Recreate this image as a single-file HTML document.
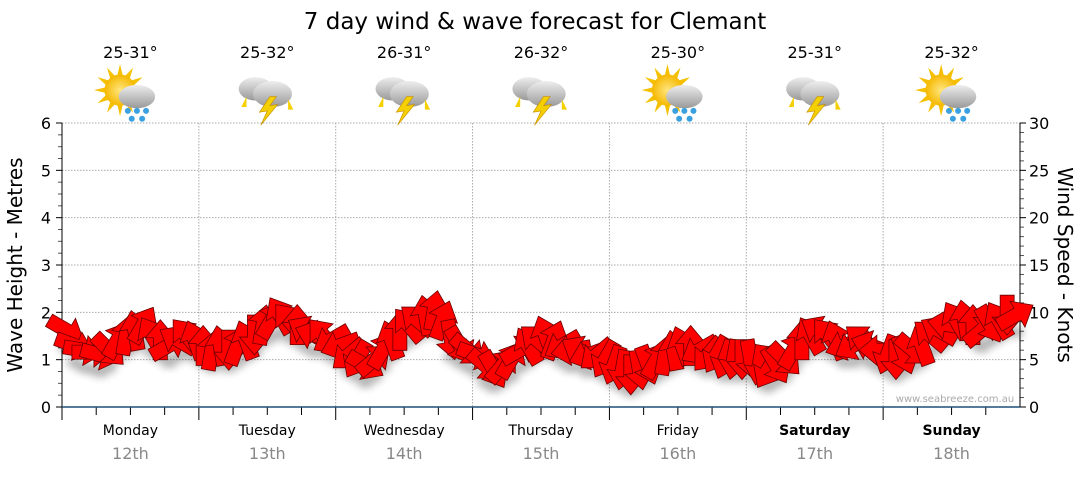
<!DOCTYPE html>
<html><head><meta charset="utf-8"><style>
body{margin:0;background:#fff;width:1080px;height:475px;overflow:hidden;font-family:"DejaVu Sans",sans-serif}
</style></head><body>
<svg id="c" width="1080" height="475" style="font-family:'DejaVu Sans','Liberation Sans',sans-serif">
<defs>
<filter id="sh" x="-20%" y="-20%" width="140%" height="160%"><feGaussianBlur stdDeviation="4"/></filter>
<radialGradient id="sun" cx="50%" cy="50%" r="50%"><stop offset="0" stop-color="#ffe680"/><stop offset="1" stop-color="#f5b800"/></radialGradient>
<linearGradient id="cl" x1="0" y1="0" x2="0" y2="1"><stop offset="0" stop-color="#eee"/><stop offset="1" stop-color="#999"/></linearGradient>
</defs>
<text x="535" y="29" font-size="23" text-anchor="middle">7 day wind &amp; wave forecast for Clemant</text>
<g id="grid"></g><g id="icons"></g><g id="marks"></g>
<text x="955" y="402" font-size="10" fill="#aaa" text-anchor="middle">www.seabreeze.com.au</text>
<text transform="translate(22,265) rotate(-90)" font-size="20" text-anchor="middle">Wave Height - Metres</text>
<text transform="translate(1058,265) rotate(90)" font-size="20" text-anchor="middle">Wind Speed - Knots</text>
</svg>
<script>
const days=["Monday","Tuesday","Wednesday","Thursday","Friday","Saturday","Sunday"];
const dates=["12th","13th","14th","15th","16th","17th","18th"];
const temps=["25-31°","25-32°","26-31°","26-32°","25-30°","25-31°","25-32°"];
const icons=["sunrain","storm","storm","storm","sunrain","storm","sunrain"];
const waveTicks=[0,1,2,3,4,5,6];
const windTicks=[0,5,10,15,20,25,30];
const windSpeed=[8.1,6.5,6.0,5.8,5.5,6.0,7.1,7.6,8.1,8.7,7.6,7.1,6.5,7.1,7.6,7.1,
6.5,6.0,6.5,6.0,6.5,7.1,7.6,8.7,9.2,9.7,9.2,8.7,8.1,7.6,7.6,7.1,
6.5,5.5,5.0,4.4,5.0,6.0,7.1,8.1,8.7,9.2,9.7,10.2,9.2,7.1,6.5,6.0,
5.5,4.4,3.9,4.4,5.0,6.0,6.5,7.1,7.6,7.1,6.5,6.0,6.0,5.5,5.5,5.0,
4.4,3.9,3.4,3.9,4.4,5.0,5.5,6.0,6.5,6.5,6.0,5.5,5.5,5.0,5.0,5.0,
5.0,4.4,3.9,4.4,5.0,6.0,7.1,7.6,8.1,7.6,7.1,6.5,6.5,7.1,6.5,6.0,
5.5,5.0,5.5,6.0,6.5,7.6,8.1,8.7,9.2,9.2,8.7,8.1,8.7,9.2,9.7,9.7];
const windDir=[30,20,10,0,15,45,-60,-80,-100,-60,-120,-90,-30,-150,-130,-110,
-90,-80,-100,90,-70,-110,90,-80,-60,-120,-130,-90,-150,-160,-130,150,
160,140,120,30,-40,-60,-110,-90,-130,-140,-100,-80,-70,80,60,40,
20,40,60,-50,-60,-30,-120,-140,-110,-70,150,170,-150,160,140,120,
110,100,90,80,70,-60,-80,-100,-110,-90,150,130,120,110,100,90,
80,100,120,60,45,-60,-90,-120,-150,-130,-110,160,150,-140,-160,180,
110,90,70,40,-110,-140,-150,-170,-120,-100,-90,-40,60,-120,90,-30];
const X0=62,X1=1020,Y0=407,Y1=123;
const dayW=(X1-X0)/7;
const yWave=v=>Y0-(v/6)*(Y0-Y1);
const yWind=v=>Y0-(v/30)*(Y0-Y1);
const xIdx=i=>X0+(i+0.5)*(X1-X0)/windSpeed.length;
const NS="http://www.w3.org/2000/svg";
function mk(p,t,a){const e=document.createElementNS(NS,t);for(const k in a)e.setAttribute(k,a[k]);p.appendChild(e);return e;}
const g=document.getElementById('grid');
waveTicks.forEach((v,i)=>{const y=yWave(v);
 if(v>0){const l=mk(g,'line',{x1:X0,x2:X1,y1:y,y2:y,stroke:'#aaa','stroke-dasharray':'1.5,1.5'});}
 const t=mk(g,'text',{x:51,y:y+6,'font-size':16,'text-anchor':'end'});t.textContent=v;
 
 mk(g,'line',{x1:X0-6,x2:X0,y1:y,y2:y,stroke:'#000'});
 if(i<waveTicks.length-1)for(let k=1;k<4;k++){const yy=y-k*(Y0-Y1)/24;mk(g,'line',{x1:X0-4,x2:X0,y1:yy,y2:yy,stroke:'#555'});}
});
windTicks.forEach((v,i)=>{const y=yWind(v);
 const t=mk(g,'text',{x:1029,y:y+6,'font-size':16});t.textContent=v;
 
 mk(g,'line',{x1:X1,x2:X1+6,y1:y,y2:y,stroke:'#000'});
 if(i<windTicks.length-1)for(let k=1;k<5;k++){const yy=y-k*(Y0-Y1)/30;mk(g,'line',{x1:X1,x2:X1+4,y1:yy,y2:yy,stroke:'#555'});}
});
mk(g,'line',{x1:X0,x2:X0,y1:Y1,y2:Y0,stroke:'#000'});
mk(g,'line',{x1:X1,x2:X1,y1:Y1,y2:Y0,stroke:'#000'});
days.forEach((d,i)=>{const x=X0+i*dayW,cx=x+dayW/2;
 if(i>0){const l=mk(g,'line',{x1:x,x2:x,y1:Y1,y2:Y0,stroke:'#aaa','stroke-dasharray':'1.5,1.5'});}
 for(let k=0;k<4;k++){const xx=x+k*dayW/4;mk(g,'line',{x1:xx,x2:xx,y1:Y0,y2:Y0+(k==0?0:8),stroke:'#000'});}
 mk(g,'line',{x1:x,x2:x,y1:Y0,y2:Y0+13,stroke:'#000'});
 const bold=i>=5;
 const t=mk(g,'text',{x:cx,y:435,'font-size':14,'text-anchor':'middle','font-weight':bold?'bold':'normal'});t.textContent=d;
 
 const t2=mk(g,'text',{x:cx,y:459,'font-size':16,'text-anchor':'middle',fill:'#888'});t2.textContent=dates[i];
 
 const t3=mk(g,'text',{x:cx,y:58,'font-size':16,'text-anchor':'middle'});t3.textContent=temps[i];
 
});
mk(g,'line',{x1:X0,x2:X1,y1:Y0,y2:Y0,stroke:'#1f4e79','stroke-width':1.5});
const ig=document.getElementById('icons');
icons.forEach((k,i)=>{const cx=X0+(i+0.5)*dayW,cy=94;const gg=mk(ig,'g',{transform:`translate(${cx},${cy}) scale(1.3)`});
 
 if(k=='sunrain'){for(let a=0;a<12;a++){const r=a*30*Math.PI/180;mk(gg,'polygon',{points:`${-8+Math.cos(r)*20},${-3+Math.sin(r)*20} ${-8+Math.cos(r+0.2)*11},${-3+Math.sin(r+0.2)*11} ${-8+Math.cos(r-0.2)*11},${-3+Math.sin(r-0.2)*11}`,fill:'#f5c000'});}
  mk(gg,'circle',{cx:-8,cy:-3,r:12,fill:'url(#sun)'});
  mk(gg,'ellipse',{cx:5,cy:2,rx:14,ry:9,fill:'url(#cl)'});
  [[-2,13],[5,13],[12,13],[1,19],[9,19]].forEach(p=>mk(gg,'circle',{cx:p[0],cy:p[1],r:2.3,fill:'#3aa0e0'}));
 }else{mk(gg,'ellipse',{cx:-9,cy:-4,rx:13,ry:9,fill:'url(#cl)'});mk(gg,'ellipse',{cx:4,cy:0,rx:15,ry:10,fill:'url(#cl)'});
  mk(gg,'polygon',{points:'2,2 -6,14 0,13 -5,24 8,8 2,9 7,2',fill:'#f5d000',stroke:'#c89000','stroke-width':0.5});
  mk(gg,'polygon',{points:'-16,2 -20,10 -16,10',fill:'#f5d000'});mk(gg,'polygon',{points:'16,4 20,12 16,12',fill:'#f5d000'});}
});
const mg=document.getElementById('marks');
const sh=mk(mg,'g',{filter:'url(#sh)',opacity:0.3});
windSpeed.forEach((v,i)=>{const x=xIdx(i),y=yWind(v);
 mk(sh,'rect',{x:x-7,y:y+12,width:14,height:10,fill:'#000'});
 const a=mk(mg,'polygon',{points:'-20,-7 2,-7 2,-15 20,0 2,15 2,7 -20,7',transform:`translate(${x},${y}) rotate(${windDir[i]})`,fill:'#ff0000',stroke:'#6a0000','stroke-width':0.8});
 
 
});
</script>
</body></html>
